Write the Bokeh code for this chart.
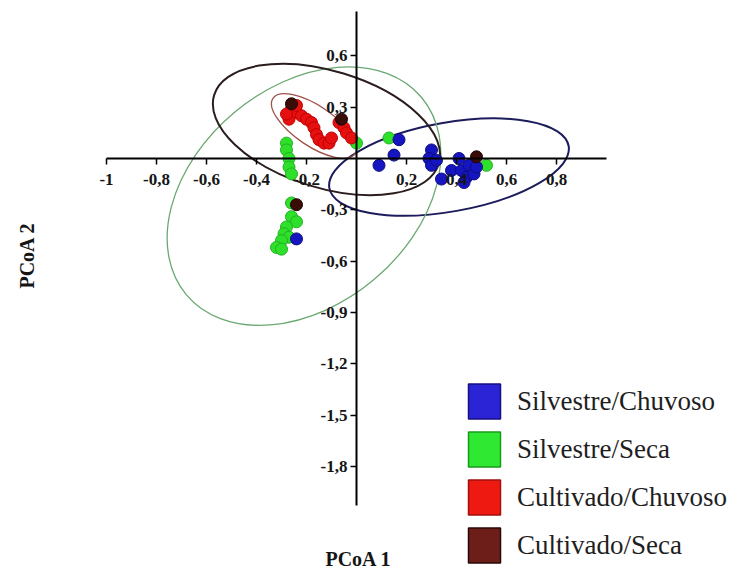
from bokeh.plotting import figure
from bokeh.models import Range1d, FixedTicker, Legend, LegendItem, Label
from bokeh.embed import file_html
from bokeh.resources import INLINE

# ---------------- data ----------------
groups = ["Silvestre/Chuvoso", "Silvestre/Seca", "Cultivado/Chuvoso", "Cultivado/Seca"]

silv_chuv_x = [0.09, 0.15, 0.17, 0.30, 0.29, 0.30, 0.32, 0.34, 0.38, 0.41, 0.42, 0.45, 0.44, 0.47, 0.48, 0.43, -0.24]
silv_chuv_y = [-0.04, 0.02, 0.11, 0.05, 0.00, -0.04, -0.01, -0.12, -0.07, 0.00, -0.07, -0.04, -0.11, -0.09, -0.05, -0.14, -0.47]

silv_seca_x = [-0.28, -0.28, -0.27, -0.27, -0.26, -0.26, -0.26, -0.24, -0.28, -0.29, -0.27, -0.30, -0.32, -0.30, 0.00, 0.13, 0.52]
silv_seca_y = [0.09, 0.05, 0.00, -0.05, -0.09, -0.26, -0.34, -0.37, -0.40, -0.44, -0.46, -0.48, -0.52, -0.53, 0.09, 0.12, -0.04]

cult_chuv_x = [-0.26, -0.27, -0.24, -0.22, -0.20, -0.18, -0.17, -0.16, -0.15, -0.13, -0.11, -0.10, -0.07, -0.05, -0.04, -0.02, -0.24, -0.28]
cult_chuv_y = [0.29, 0.23, 0.27, 0.25, 0.23, 0.21, 0.18, 0.14, 0.11, 0.09, 0.09, 0.12, 0.21, 0.18, 0.15, 0.12, 0.31, 0.26]

cult_seca_x = [-0.26, -0.06, -0.24, 0.48]
cult_seca_y = [0.32, 0.23, -0.27, 0.01]

# confidence ellipses: centre (data), full axes (pixels), rotation (deg)
ell_cx = [0.37, -0.21, -0.17, -0.12]
ell_cy = [-0.05, -0.22, 0.19, 0.17]
ell_w = [243, 307, 99, 235]
ell_h = [89, 218, 40, 117]
ell_angle = [10, 40, -34, -17]

x_ticks = [-1, -0.8, -0.6, -0.4, -0.2, 0.2, 0.4, 0.6, 0.8]
x_tick_labels = ["-1", "-0,8", "-0,6", "-0,4", "-0,2", "0,2", "0,4", "0,6", "0,8"]
y_ticks = [0.6, 0.3, -0.3, -0.6, -0.9, -1.2, -1.5, -1.8]
y_tick_labels = ["0,6", "0,3", "-0,3", "-0,6", "-0,9", "-1,2", "-1,5", "-1,8"]

# ---------------- styles ----------------
pt_fill = ["#1616c0", "#2ee02a", "#e61010", "#3a0c08"]
pt_line = ["#0c0c80", "#22b022", "#c00000", "#1a0000"]
ell_color = ["#1c1c5c", "#6aa870", "#a0524a", "#2b1d1d"]
ell_lw = [2, 1.3, 1.3, 2]
sw_fill = ["#2b23d6", "#2ee832", "#ee1a12", "#6e1e18"]
sw_line = ["#160f80", "#1a9a1a", "#a01010", "#2a0808"]

W, H = 735, 577
p = figure(width=W, height=H,
           x_range=Range1d(-1.424, 1.516), y_range=Range1d(-2.450, 0.924),
           output_backend="svg", toolbar_location=None, min_border=0,
           outline_line_color=None, background_fill_color="white")
p.grid.visible = False
p.title.visible = False

# axes crossing at origin
for ax in (p.xaxis[0], p.yaxis[0]):
    ax.fixed_location = 0
    ax.axis_line_width = 2
    ax.axis_line_color = "black"
    ax.major_tick_line_width = 1.5
    ax.major_tick_line_color = "black"
    ax.major_tick_in = 0
    ax.major_tick_out = 6
    ax.minor_tick_in = 0
    ax.minor_tick_out = 0
    ax.major_label_text_font = "Liberation Serif"
    ax.major_label_text_font_style = "bold"
    ax.major_label_text_font_size = "17px"
    ax.major_label_text_color = "#151515"

p.xaxis[0].ticker = FixedTicker(ticks=x_ticks)
p.xaxis[0].major_label_overrides = {t: l for t, l in zip(x_ticks, x_tick_labels)}
p.xaxis[0].bounds = (-1, 1.0)
p.xaxis[0].major_label_standoff = 9
p.yaxis[0].ticker = FixedTicker(ticks=y_ticks)
p.yaxis[0].major_label_overrides = {t: l for t, l in zip(y_ticks, y_tick_labels)}
p.yaxis[0].bounds = (-2.03, 0.86)
p.yaxis[0].major_label_standoff = 3

# ellipses
for i in range(4):
    p.ellipse(x=[ell_cx[i]], y=[ell_cy[i]], width=ell_w[i], height=ell_h[i],
              width_units="screen", height_units="screen",
              angle=ell_angle[i], angle_units="deg",
              fill_alpha=0, line_color=ell_color[i], line_width=ell_lw[i])

# points (draw order: green, blue, red, brown)
series = [(silv_seca_x, silv_seca_y, 1), (silv_chuv_x, silv_chuv_y, 0),
          (cult_chuv_x, cult_chuv_y, 2), (cult_seca_x, cult_seca_y, 3)]
for xs, ys, k in series:
    p.scatter(x=xs, y=ys, size=12, marker="circle",
              fill_color=pt_fill[k], line_color=pt_line[k], line_width=1)

# legend with square swatches (legend-only renderers, no visible data)
nan = float("nan")
items = []
for k, g in enumerate(groups):
    r = p.rect(x=[nan], y=[nan], width=1, height=1, fill_color=sw_fill[k],
               line_color=sw_line[k], line_width=1.5)
    items.append(LegendItem(label=g, renderers=[r]))
legend = Legend(items=items, location=(464, 10), orientation="vertical",
                glyph_width=40, glyph_height=44, spacing=4, padding=0, margin=0,
                label_standoff=13, label_text_font="Liberation Serif",
                label_text_font_size="27px", label_text_color="#1e1e1e",
                border_line_color=None, background_fill_alpha=0)
p.add_layout(legend)

# axis titles
p.add_layout(Label(x=358, y=H - 558, x_units="screen", y_units="screen",
                   text="PCoA 1", text_font="Liberation Serif", text_font_style="bold",
                   text_font_size="20px", text_align="center", text_baseline="middle",
                   text_color="#151515"))
p.add_layout(Label(x=26, y=H - 255, x_units="screen", y_units="screen",
                   text="PCoA 2", text_font="Liberation Serif", text_font_style="bold",
                   text_font_size="20px", text_align="center", text_baseline="middle",
                   angle=90, angle_units="deg", text_color="#151515"))

open("out.html", "w").write(file_html(p, INLINE))
